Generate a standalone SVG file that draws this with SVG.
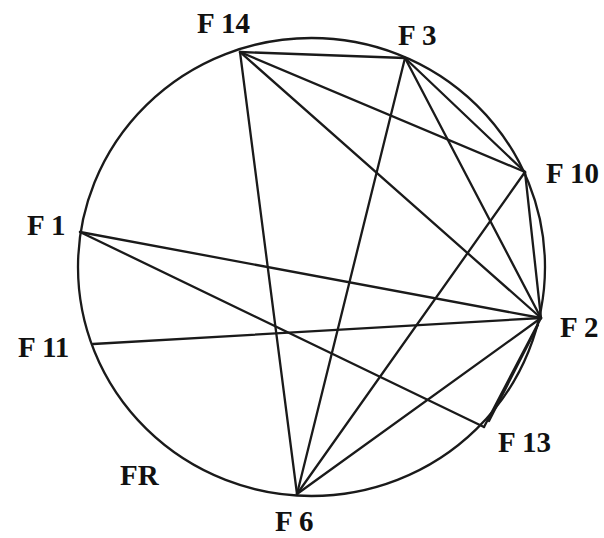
<svg xmlns="http://www.w3.org/2000/svg" width="604" height="538" viewBox="0 0 604 538">
<style>
.lbl{font-family:"Liberation Serif","Times New Roman",serif;font-weight:bold;font-size:29px;fill:#111}
.e{stroke:#1a1a1a;stroke-width:2.3;fill:none;stroke-linecap:round}
</style>
<rect width="604" height="538" fill="#fff"/>
<ellipse cx="311.5" cy="267" rx="233.5" ry="229" class="e"/>
<g id="connectors">
<line class="e" x1="240" y1="52" x2="405" y2="58"/>
<line class="e" x1="240" y1="52" x2="297" y2="494"/>
<line class="e" x1="240" y1="52" x2="525" y2="172"/>
<line class="e" x1="240" y1="52" x2="541" y2="318"/>
<line class="e" x1="405" y1="58" x2="525" y2="172"/>
<line class="e" x1="405" y1="58" x2="541" y2="318"/>
<line class="e" x1="405" y1="58" x2="297" y2="494"/>
<line class="e" x1="525" y1="172" x2="541" y2="318"/>
<line class="e" x1="525" y1="172" x2="297" y2="494"/>
<line class="e" x1="80" y1="232" x2="541" y2="318"/>
<line class="e" x1="80" y1="232" x2="484" y2="427"/>
<line class="e" x1="93" y1="344" x2="541" y2="318"/>
<line class="e" x1="541" y1="318" x2="297" y2="494"/>
<line class="e" x1="541" y1="318" x2="484" y2="427"/>
<line class="e" x1="538" y1="325" x2="489" y2="421"/>
</g>
<g id="F14"><text class="lbl" x="197" y="33">F 14</text></g>
<g id="F3"><text class="lbl" x="398" y="45">F 3</text></g>
<g id="F10"><text class="lbl" x="546" y="183">F 10</text></g>
<g id="F2"><text class="lbl" x="560" y="337">F 2</text></g>
<g id="F1"><text class="lbl" x="27" y="235">F 1</text></g>
<g id="F11"><text class="lbl" x="18" y="357">F 11</text></g>
<g id="F13"><text class="lbl" x="498" y="452">F 13</text></g>
<g id="F6"><text class="lbl" x="275" y="531">F 6</text></g>
<g id="FR"><text class="lbl" x="120" y="485">FR</text></g>
</svg>
